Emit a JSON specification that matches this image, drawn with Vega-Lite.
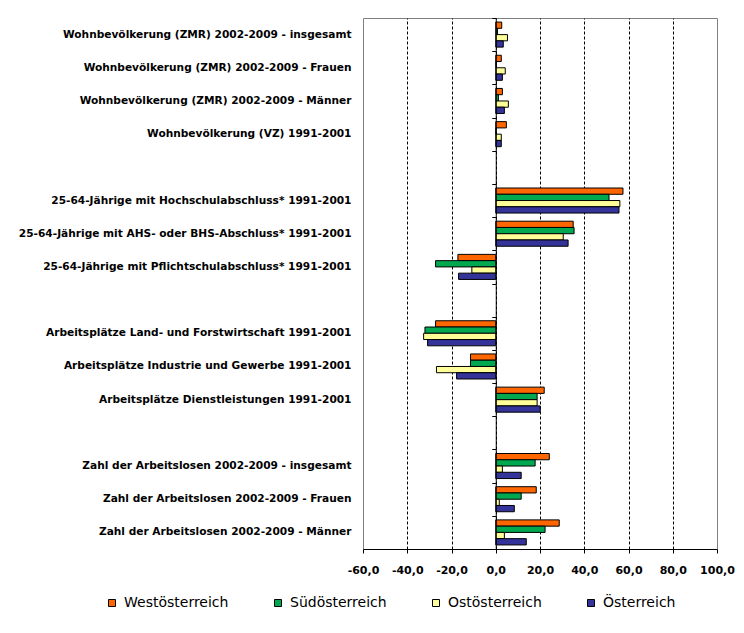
{
  "$schema": "https://vega.github.io/schema/vega-lite/v6.json",
  "width": 354,
  "height": 531,
  "autosize": {"type": "none"},
  "padding": {"left": 363, "top": 18, "right": 27, "bottom": 84},
  "config": {"view": {"stroke": "#808080", "strokeWidth": 1}, "font": "DejaVu Sans"},
  "data": {
    "values": [
      {"cat": "Wohnbevölkerung (ZMR) 2002-2009 - insgesamt", "region": "Westösterreich", "value": 2.7},
      {"cat": "Wohnbevölkerung (ZMR) 2002-2009 - insgesamt", "region": "Südösterreich", "value": 0.8},
      {"cat": "Wohnbevölkerung (ZMR) 2002-2009 - insgesamt", "region": "Ostösterreich", "value": 5.3},
      {"cat": "Wohnbevölkerung (ZMR) 2002-2009 - insgesamt", "region": "Österreich", "value": 3.4},
      {"cat": "Wohnbevölkerung (ZMR) 2002-2009 - Frauen", "region": "Westösterreich", "value": 2.5},
      {"cat": "Wohnbevölkerung (ZMR) 2002-2009 - Frauen", "region": "Südösterreich", "value": 0.2},
      {"cat": "Wohnbevölkerung (ZMR) 2002-2009 - Frauen", "region": "Ostösterreich", "value": 4.3},
      {"cat": "Wohnbevölkerung (ZMR) 2002-2009 - Frauen", "region": "Österreich", "value": 3.0},
      {"cat": "Wohnbevölkerung (ZMR) 2002-2009 - Männer", "region": "Westösterreich", "value": 3.0},
      {"cat": "Wohnbevölkerung (ZMR) 2002-2009 - Männer", "region": "Südösterreich", "value": 1.2},
      {"cat": "Wohnbevölkerung (ZMR) 2002-2009 - Männer", "region": "Ostösterreich", "value": 5.7},
      {"cat": "Wohnbevölkerung (ZMR) 2002-2009 - Männer", "region": "Österreich", "value": 3.9},
      {"cat": "Wohnbevölkerung (VZ) 1991-2001", "region": "Westösterreich", "value": 4.8},
      {"cat": "Wohnbevölkerung (VZ) 1991-2001", "region": "Südösterreich", "value": 0.1},
      {"cat": "Wohnbevölkerung (VZ) 1991-2001", "region": "Ostösterreich", "value": 2.5},
      {"cat": "Wohnbevölkerung (VZ) 1991-2001", "region": "Österreich", "value": 2.5},
      {"cat": "25-64-Jährige mit Hochschulabschluss* 1991-2001", "region": "Westösterreich", "value": 57.5},
      {"cat": "25-64-Jährige mit Hochschulabschluss* 1991-2001", "region": "Südösterreich", "value": 51.2},
      {"cat": "25-64-Jährige mit Hochschulabschluss* 1991-2001", "region": "Ostösterreich", "value": 56.1},
      {"cat": "25-64-Jährige mit Hochschulabschluss* 1991-2001", "region": "Österreich", "value": 55.7},
      {"cat": "25-64-Jährige mit AHS- oder BHS-Abschluss* 1991-2001", "region": "Westösterreich", "value": 35.0},
      {"cat": "25-64-Jährige mit AHS- oder BHS-Abschluss* 1991-2001", "region": "Südösterreich", "value": 35.4},
      {"cat": "25-64-Jährige mit AHS- oder BHS-Abschluss* 1991-2001", "region": "Ostösterreich", "value": 30.5},
      {"cat": "25-64-Jährige mit AHS- oder BHS-Abschluss* 1991-2001", "region": "Österreich", "value": 32.7},
      {"cat": "25-64-Jährige mit Pflichtschulabschluss* 1991-2001", "region": "Westösterreich", "value": -17.1},
      {"cat": "25-64-Jährige mit Pflichtschulabschluss* 1991-2001", "region": "Südösterreich", "value": -27.2},
      {"cat": "25-64-Jährige mit Pflichtschulabschluss* 1991-2001", "region": "Ostösterreich", "value": -10.8},
      {"cat": "25-64-Jährige mit Pflichtschulabschluss* 1991-2001", "region": "Österreich", "value": -16.8},
      {"cat": "Arbeitsplätze Land- und Forstwirtschaft 1991-2001", "region": "Westösterreich", "value": -27.2},
      {"cat": "Arbeitsplätze Land- und Forstwirtschaft 1991-2001", "region": "Südösterreich", "value": -32.0},
      {"cat": "Arbeitsplätze Land- und Forstwirtschaft 1991-2001", "region": "Ostösterreich", "value": -32.6},
      {"cat": "Arbeitsplätze Land- und Forstwirtschaft 1991-2001", "region": "Österreich", "value": -30.8},
      {"cat": "Arbeitsplätze Industrie und Gewerbe 1991-2001", "region": "Westösterreich", "value": -11.4},
      {"cat": "Arbeitsplätze Industrie und Gewerbe 1991-2001", "region": "Südösterreich", "value": -11.4},
      {"cat": "Arbeitsplätze Industrie und Gewerbe 1991-2001", "region": "Ostösterreich", "value": -26.8},
      {"cat": "Arbeitsplätze Industrie und Gewerbe 1991-2001", "region": "Österreich", "value": -17.7},
      {"cat": "Arbeitsplätze Dienstleistungen 1991-2001", "region": "Westösterreich", "value": 21.9},
      {"cat": "Arbeitsplätze Dienstleistungen 1991-2001", "region": "Südösterreich", "value": 18.7},
      {"cat": "Arbeitsplätze Dienstleistungen 1991-2001", "region": "Ostösterreich", "value": 18.7},
      {"cat": "Arbeitsplätze Dienstleistungen 1991-2001", "region": "Österreich", "value": 20.1},
      {"cat": "Zahl der Arbeitslosen 2002-2009 - insgesamt", "region": "Westösterreich", "value": 24.2},
      {"cat": "Zahl der Arbeitslosen 2002-2009 - insgesamt", "region": "Südösterreich", "value": 17.8},
      {"cat": "Zahl der Arbeitslosen 2002-2009 - insgesamt", "region": "Ostösterreich", "value": 3.0},
      {"cat": "Zahl der Arbeitslosen 2002-2009 - insgesamt", "region": "Österreich", "value": 11.5},
      {"cat": "Zahl der Arbeitslosen 2002-2009 - Frauen", "region": "Westösterreich", "value": 18.3},
      {"cat": "Zahl der Arbeitslosen 2002-2009 - Frauen", "region": "Südösterreich", "value": 11.5},
      {"cat": "Zahl der Arbeitslosen 2002-2009 - Frauen", "region": "Ostösterreich", "value": 1.6},
      {"cat": "Zahl der Arbeitslosen 2002-2009 - Frauen", "region": "Österreich", "value": 8.4},
      {"cat": "Zahl der Arbeitslosen 2002-2009 - Männer", "region": "Westösterreich", "value": 28.7},
      {"cat": "Zahl der Arbeitslosen 2002-2009 - Männer", "region": "Südösterreich", "value": 22.3},
      {"cat": "Zahl der Arbeitslosen 2002-2009 - Männer", "region": "Ostösterreich", "value": 3.9},
      {"cat": "Zahl der Arbeitslosen 2002-2009 - Männer", "region": "Österreich", "value": 13.8}
    ]
  },
  "layer": [
    {
      "mark": {"type": "bar", "stroke": "black", "strokeWidth": 1},
      "encoding": {
        "y": {
          "field": "cat",
          "type": "nominal",
          "scale": {
            "domain": [
              "Wohnbevölkerung (ZMR) 2002-2009 - insgesamt",
              "Wohnbevölkerung (ZMR) 2002-2009 - Frauen",
              "Wohnbevölkerung (ZMR) 2002-2009 - Männer",
              "Wohnbevölkerung (VZ) 1991-2001",
              " ",
              "25-64-Jährige mit Hochschulabschluss* 1991-2001",
              "25-64-Jährige mit AHS- oder BHS-Abschluss* 1991-2001",
              "25-64-Jährige mit Pflichtschulabschluss* 1991-2001",
              "  ",
              "Arbeitsplätze Land- und Forstwirtschaft 1991-2001",
              "Arbeitsplätze Industrie und Gewerbe 1991-2001",
              "Arbeitsplätze Dienstleistungen 1991-2001",
              "   ",
              "Zahl der Arbeitslosen 2002-2009 - insgesamt",
              "Zahl der Arbeitslosen 2002-2009 - Frauen",
              "Zahl der Arbeitslosen 2002-2009 - Männer"
            ],
            "paddingInner": 0,
            "paddingOuter": 0
          },
          "axis": {
            "title": null,
            "domain": false,
            "ticks": false,
            "labelFont": "DejaVu Sans",
            "labelFontWeight": "bold",
            "labelFontSize": 10.6,
            "labelColor": "black",
            "labelPadding": 12,
            "labelLimit": 400
          }
        },
        "yOffset": {
          "field": "region",
          "type": "nominal",
          "sort": ["Westösterreich", "Südösterreich", "Ostösterreich", "Österreich"],
          "scale": {"paddingOuter": 0.65, "paddingInner": 0}
        },
        "x": {
          "field": "value",
          "type": "quantitative",
          "scale": {"domain": [-60, 100], "nice": false, "zero": false},
          "axis": {
            "title": null,
            "values": [-60, -40, -20, 0, 20, 40, 60, 80, 100],
            "labelOverlap": false,
            "labelFlush": false,
            "labelExpr": "replace(replace(format(datum.value, '.1f'), '.', ','), '\u2212', '-')",
            "labelFont": "DejaVu Sans",
            "labelFontWeight": "bold",
            "labelFontSize": 11,
            "labelColor": "black",
            "labelPadding": 11,
            "domainColor": "black",
            "tickColor": "black",
            "tickSize": 4,
            "grid": true,
            "gridColor": "black",
            "gridDash": [3, 2],
            "gridOpacity": {"condition": {"test": "datum.value == -60 || datum.value == 100", "value": 0}, "value": 1}
          }
        },
        "color": {
          "field": "region",
          "type": "nominal",
          "scale": {
            "domain": ["Westösterreich", "Südösterreich", "Ostösterreich", "Österreich"],
            "range": ["#FF6600", "#00A850", "#FFFF99", "#333399"]
          },
          "legend": {
            "title": null,
            "orient": "none",
            "legendX": -258,
            "legendY": 578,
            "direction": "horizontal",
            "columns": 4,
            "columnPadding": 42,
            "symbolType": "square",
            "symbolSize": 49,
            "symbolStrokeColor": "black",
            "symbolStrokeWidth": 1,
            "symbolOpacity": 1,
            "labelFont": "DejaVu Sans",
            "labelFontSize": 14,
            "labelColor": "black",
            "labelOffset": 5,
            "labelLimit": 300
          }
        }
      }
    },
    {
      "mark": {"type": "bar", "opacity": 0},
      "encoding": {
        "y": {
          "field": "cat",
          "type": "nominal",
          "axis": {
            "orient": "left",
            "offset": -132.75,
            "labels": false,
            "title": null,
            "domain": true,
            "domainColor": "black",
            "ticks": true,
            "tickColor": "black",
            "tickSize": 4,
            "tickBand": "extent",
            "grid": false,
            "zindex": 1
          }
        },
        "x": {"field": "value", "type": "quantitative"}
      }
    }
  ],
  "resolve": {"axis": {"y": "independent"}}
}
